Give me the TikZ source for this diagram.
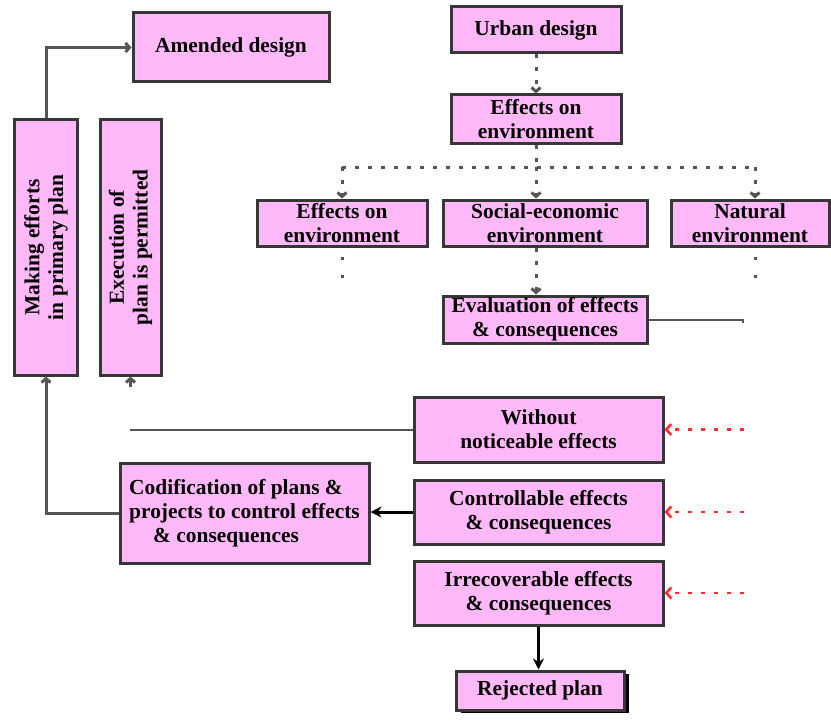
\documentclass[tikz,border=0pt]{standalone}
\usepackage{fontspec}
\setmainfont{Liberation Serif}
\usetikzlibrary{arrows.meta,shadows}
\definecolor{boxpink}{RGB}{255,184,248}
\definecolor{boxline}{RGB}{55,55,55}
\definecolor{conngray}{RGB}{85,85,85}
\definecolor{dotred}{RGB}{255,45,45}

\begin{document}
\begin{tikzpicture}[x=1bp,y=-1bp,
  box/.style={draw=boxline, line width=3bp, fill=boxpink, inner sep=0pt, align=center,
    font=\fontsize{21.5}{24}\selectfont\bfseries},
  grayarrow/.style={draw=conngray, line width=3bp, -{Straight Barb[length=4bp,width=9bp]}},
  plainline/.style={draw=conngray, line width=2bp},
  dotline/.style={draw=conngray, line width=3bp, dash pattern=on 4bp off 9bp},
  dotarrow/.style={dotline, -{Straight Barb[length=4bp,width=9bp]}},
  dotgap/.style={draw=conngray, line width=3bp, dash pattern=on 3bp off 15bp, dash phase=9bp},
  redarrow/.style={draw=dotred, line width=2.6bp, dash pattern=on 4bp off 9bp, -{Straight Barb[length=5bp,width=11bp]}},
  blackarrow/.style={draw=black, line width=3bp, -{Stealth[length=11bp,width=11bp]}}]
  \useasboundingbox (0,0) rectangle (831,721);

  % Top: design and its effects
  \node[box, minimum width=170bp, minimum height=46bp] (urban) at (536,30) {Urban design};
  \node[box, minimum width=170bp, minimum height=48bp] (effects) at (536,119) {Effects on\\environment};

  \node[box, minimum width=170bp, minimum height=46bp] (effl) at (342,223) {Effects on\\environment};
  \node[box, minimum width=204bp, minimum height=46bp] (social) at (545,223) {Social-economic\\environment};
  \node[box, minimum width=158bp, minimum height=46bp] (natural) at (750,223) {Natural\\environment};

  \node[box, minimum width=204bp, minimum height=47bp] (evalu) at (545,319.5) {Evaluation of effects\\\& consequences};

  \draw[dotarrow] (urban.south) -- (effects.north);
  \coordinate (junc) at (536,167);
  \coordinate (junL) at (342,167);
  \coordinate (junR) at (755,167);
  \draw[dotline] (effects.south) -- (junc);
  \draw[dotline] (junL) -- (junR);
  \draw[dotarrow] (junL) -- (effl.north);
  \draw[dotarrow] (junc) -- (junc |- social.north);
  \draw[dotarrow] (junR) -- (junR |- natural.north);
  \draw[dotgap] (effl.south) -- ++(0,32);
  \draw[dotgap] (junR |- natural.south) -- ++(0,32);
  \draw[dotarrow] (junc |- social.south) -- (junc |- evalu.north);

  \coordinate (evend) at (743,323);
  \draw[plainline] (evalu.east) -| (evend);

  % Left: the two vertical boxes and amended design
  \node[box, minimum width=196bp, minimum height=69bp] (amended) at (231,47.5) {Amended design};
  \node[box, rotate=90, minimum width=255bp, minimum height=62bp] (making) at (46,247.5) {Making efforts\\in primary plan};
  \node[box, rotate=90, minimum width=255bp, minimum height=61bp] (execution) at (130.5,247.5) {Execution of\\plan is permitted};

  \draw[grayarrow] (making.east) |- (amended.west);

  % Bottom: kinds of effects
  \node[box, minimum width=249bp, minimum height=65bp] (without) at (538.5,429.5) {Without\\noticeable effects};
  \node[box, minimum width=249bp, minimum height=64bp] (control) at (538.5,512) {Controllable effects\\\& consequences};
  \node[box, minimum width=249bp, minimum height=64bp] (irrec) at (538.5,593) {Irrecoverable effects\\\& consequences};
  \node[box, minimum width=249bp, minimum height=100bp, align=left] (codif) at (244.5,513)
    {Codification of plans \&\\projects to control effects\\\hspace*{24bp}\& consequences};
  \node[box, minimum width=168bp, minimum height=39bp,
    drop shadow={shadow xshift=5bp, shadow yshift=-3bp, fill=black, opacity=1}] (rejected) at (540,690.5) {Rejected plan};

  \coordinate (redx) at (744,0);
  \foreach \n in {without,control,irrec}
    \draw[redarrow] (\n.east -| redx) -- (\n.east);

  \draw[blackarrow] (control.west) -- (control.west -| codif.east);
  \draw[blackarrow] (irrec.south) -- (irrec.south |- rejected.north);
  \draw[grayarrow] (codif.west) -| (making.west);

  \coordinate (wend) at (130,429.5);
  \draw[plainline] (without.west) -- (wend);
  \coordinate (exstub) at (130.5,387);
  \draw[grayarrow] (exstub) -- (execution.west);
\end{tikzpicture}
\end{document}
